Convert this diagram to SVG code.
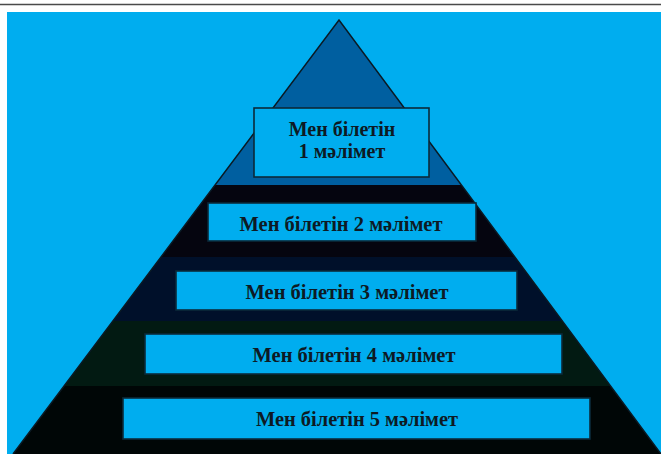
<svg xmlns="http://www.w3.org/2000/svg" width="661" height="454" viewBox="0 0 661 454">
<style>
.box{fill:#00adef;stroke:#0b2a3a;stroke-width:1.6}
.lbl{font-family:"Liberation Serif","Times New Roman",serif;font-weight:bold;font-size:20px;fill:#0d1a24;text-anchor:middle}
.edge{fill:none;stroke:#0a1a24;stroke-width:1.5}
</style>
<rect x="0" y="0" width="661" height="454" fill="#ffffff"/>
<line x1="0" y1="4.5" x2="661" y2="4.5" stroke="#4a4a4a" stroke-width="1.6"/>
<rect x="7" y="12" width="654" height="442" fill="#00adef"/>
<g id="pyramid">
<polygon points="339,20 215.1,185 461.4,185" fill="#005fa0"/>
<polygon points="215.1,185 461.4,185 514.9,257 161,257" fill="#05050f"/>
<polygon points="161,257 514.9,257 562.3,321 112.9,321" fill="#00102a"/>
<polygon points="112.9,321 562.3,321 610.6,386 64.1,386" fill="#021a12"/>
<polygon points="64.1,386 610.6,386 661,454 13,454" fill="#000606"/>
<polyline class="edge" points="13,454 339,20 661,454"/>
</g>
<g id="node1">
<rect class="box" x="254" y="108" width="175" height="69"/>
<text class="lbl" x="342" y="136">Мен білетін</text>
<text class="lbl" x="342" y="158">1 мәлімет</text>
</g>
<g id="node2">
<rect class="box" x="208" y="203" width="268" height="38"/>
<text class="lbl" x="341" y="231" textLength="203" lengthAdjust="spacingAndGlyphs">Мен білетін 2 мәлімет</text>
</g>
<g id="node3">
<rect class="box" x="176" y="271" width="341" height="39"/>
<text class="lbl" x="347" y="299" textLength="203" lengthAdjust="spacingAndGlyphs">Мен білетін 3 мәлімет</text>
</g>
<g id="node4">
<rect class="box" x="145" y="334" width="417" height="40"/>
<text class="lbl" x="354" y="362" textLength="203" lengthAdjust="spacingAndGlyphs">Мен білетін 4 мәлімет</text>
</g>
<g id="node5">
<rect class="box" x="123" y="398" width="467" height="41"/>
<text class="lbl" x="357" y="426" textLength="202" lengthAdjust="spacingAndGlyphs">Мен білетін 5 мәлімет</text>
</g>
</svg>
